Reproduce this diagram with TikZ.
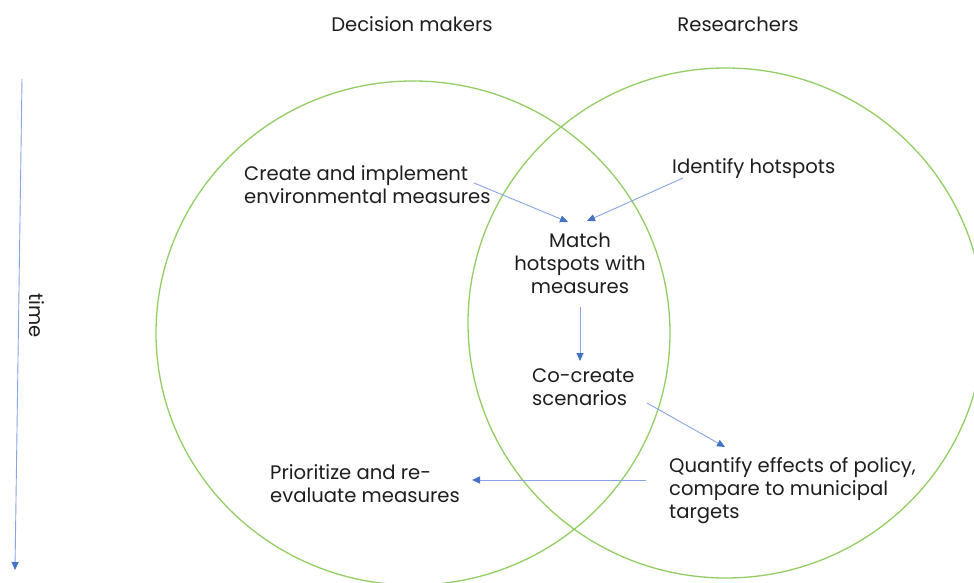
\documentclass[tikz,border=0pt]{standalone}
\usepackage{fontspec}
\setmainfont{Poppins}
\usetikzlibrary{arrows.meta}
\definecolor{vgreen}{RGB}{146,206,100}
\definecolor{aline}{RGB}{135,165,225}
\definecolor{ahead}{RGB}{68,114,196}
\definecolor{txt}{RGB}{30,30,30}
\begin{document}
\begin{tikzpicture}[x=1pt,y=-1pt,
  lab/.style={font=\fontsize{19.6}{23}\selectfont, text=txt, inner sep=0pt},
  conn/.style={draw=aline, line width=0.9pt, -{Triangle[length=8pt,width=7pt,color=ahead]}},
  ring/.style={draw=vgreen, line width=1.3pt}]
\useasboundingbox (0,0) rectangle (974,583);
\fill[white] (0,0) rectangle (974,583);
\begin{scope}
\clip (0,0) rectangle (974,583);
\draw[ring] (413,333) ellipse [x radius=257, y radius=252];
\draw[ring] (726,323) ellipse [x radius=258, y radius=255];
\end{scope}
% titles
\node[lab, anchor=base] (dm) at (412,32) {Decision makers};
\node[lab, anchor=base] (rs) at (738,32) {Researchers};
% time axis
\coordinate (t0) at (22,79);
\coordinate (t1) at (15,570);
\draw[conn] (t0) -- (t1);
\node[lab, rotate=-90] (time) at (37,316) {time};
% step labels (base anchor = baseline of last line)
\node[lab, anchor=base west, align=left] (create) at (244,203) {Create and implement\\environmental measures};
\node[lab, anchor=base west] (ident) at (672,173) {Identify hotspots};
\node[lab, anchor=base, align=center] (match) at (580,293) {Match\\hotspots with\\measures};
\node[lab, anchor=base west, align=left] (cocr) at (532,405) {Co-create\\scenarios};
\node[lab, anchor=base west, align=left] (quant) at (669,518) {Quantify effects of policy,\\compare to municipal\\targets};
\node[lab, anchor=base west, align=left] (prio) at (270,502) {Prioritize and re-\\evaluate measures};
% connector ends
\coordinate (a1s) at (474,183);
\coordinate (a1e) at (568,222);
\coordinate (a2s) at (683,178);
\coordinate (a2e) at (587,221);
\coordinate (a3s) at (580,307);
\coordinate (a3e) at (580,361);
\coordinate (a4s) at (647,403);
\coordinate (a4e) at (725,447);
\coordinate (a5s) at (646,480);
\coordinate (a5e) at (472,480);
\draw[conn] (a1s) -- (a1e);
\draw[conn] (a2s) -- (a2e);
\draw[conn] (a3s) -- (a3e);
\draw[conn] (a4s) -- (a4e);
\draw[conn] (a5s) -- (a5e);
\end{tikzpicture}
\end{document}
